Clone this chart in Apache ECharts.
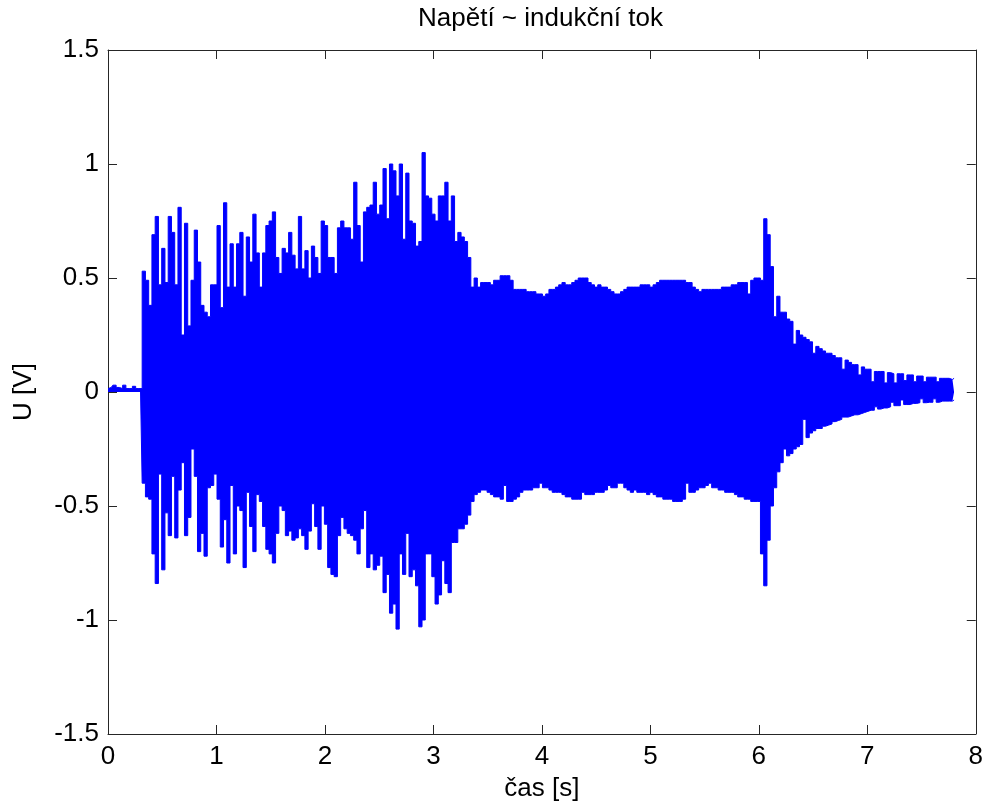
<!DOCTYPE html>
<html>
<head>
<meta charset="utf-8">
<title>Napětí ~ indukční tok</title>
<script src="https://cdn.jsdelivr.net/npm/echarts@6/dist/echarts.min.js"></script>
<style>
  html, body { margin: 0; padding: 0; background: #ffffff; }
  #chart { width: 986px; height: 807px; }
</style>
</head>
<body>
<div id="chart"></div>
<script>
// Sampling grid of the recorded voltage envelope (seconds)
const T_START = 0;
const T_STEP = 0.03;

// Positive peaks of U [V] per time step (t = 0 … 7.80 s)
const upperPeaks = [
  // 0.00 – 0.30 s, before the excitation starts
  0.015, 0.02, 0.03, 0.02, 0.015, 0.03, 0.015, 0.015, 0.025, 0.015, 0.015,
  // 0.33 – 2.49 s
  0.53, 0.49, 0.38, 0.69, 0.77, 0.47, 0.63, 0.48, 0.77, 0.70,
  0.47, 0.81, 0.25, 0.74, 0.29, 0.49, 0.71, 0.57, 0.38, 0.35,
  0.33, 0.47, 0.47, 0.73, 0.37, 0.83, 0.46, 0.65, 0.46, 0.65,
  0.70, 0.42, 0.68, 0.57, 0.78, 0.61, 0.46, 0.61, 0.73, 0.75,
  0.79, 0.59, 0.52, 0.63, 0.61, 0.70, 0.60, 0.54, 0.77, 0.54,
  0.62, 0.50, 0.64, 0.59, 0.52, 0.75, 0.73, 0.59, 0.59, 0.52,
  0.72, 0.75, 0.72, 0.72, 0.67, 0.92, 0.73, 0.57, 0.79, 0.81,
  0.82, 0.92, 0.78,
  // 2.52 – 4.98 s
  0.82, 0.98, 0.76, 1.00, 0.97, 0.86, 1.00, 0.67, 0.96, 0.75,
  0.74, 0.64, 0.66, 1.05, 0.86, 0.85, 0.78, 0.75, 0.86, 0.86,
  0.92, 0.75, 0.86, 0.66, 0.70, 0.68, 0.66, 0.59, 0.46, 0.50,
  0.46, 0.48, 0.48, 0.48, 0.47, 0.49, 0.49, 0.51, 0.51, 0.51,
  0.49, 0.45, 0.45, 0.45, 0.45, 0.44, 0.44, 0.44, 0.43, 0.43,
  0.42, 0.43, 0.45, 0.45, 0.46, 0.47, 0.48, 0.47, 0.47, 0.48,
  0.49, 0.50, 0.50, 0.50, 0.48, 0.47, 0.46, 0.47, 0.46, 0.46,
  0.45, 0.44, 0.43, 0.43, 0.44, 0.45, 0.46, 0.46, 0.46, 0.46,
  0.47, 0.47, 0.47,
  // 5.01 – 7.80 s
  0.46, 0.47, 0.48, 0.49, 0.49, 0.49, 0.49, 0.49, 0.49, 0.49,
  0.49, 0.48, 0.48, 0.46, 0.45, 0.44, 0.45, 0.45, 0.45, 0.45,
  0.45, 0.45, 0.46, 0.46, 0.46, 0.47, 0.47, 0.48, 0.48, 0.48,
  0.43, 0.49, 0.50, 0.50, 0.49, 0.76, 0.69, 0.55, 0.33, 0.42,
  0.35, 0.35, 0.32, 0.31, 0.21, 0.27, 0.25, 0.24, 0.23, 0.22,
  0.17, 0.20, 0.19, 0.18, 0.17, 0.17, 0.16, 0.15, 0.15, 0.10,
  0.14, 0.13, 0.12, 0.12, 0.075, 0.11, 0.10, 0.10, 0.045, 0.09,
  0.09, 0.09, 0.04, 0.085, 0.08, 0.04, 0.08, 0.08, 0.05, 0.075,
  0.075, 0.045, 0.07, 0.07, 0.045, 0.065, 0.065, 0.065, 0.045, 0.06,
  0.06, 0.06, 0.055, 0.06
];

// Negative peaks of U [V] per time step (t = 0 … 7.80 s)
const lowerPeaks = [
  // 0.00 – 0.30 s
  0.005, 0.005, 0.01, 0.005, 0.005, 0.01, 0.005, 0.005, 0.005, 0.005, 0.005,
  // 0.33 – 2.49 s
  -0.40, -0.46, -0.47, -0.71, -0.84, -0.36, -0.78, -0.53, -0.63, -0.37,
  -0.64, -0.43, -0.31, -0.63, -0.55, -0.25, -0.37, -0.70, -0.62, -0.72,
  -0.42, -0.41, -0.36, -0.47, -0.68, -0.56, -0.75, -0.41, -0.71, -0.50,
  -0.52, -0.77, -0.44, -0.59, -0.70, -0.45, -0.48, -0.59, -0.69, -0.71,
  -0.75, -0.62, -0.50, -0.52, -0.63, -0.61, -0.65, -0.64, -0.60, -0.63,
  -0.69, -0.61, -0.49, -0.59, -0.69, -0.50, -0.58, -0.77, -0.80, -0.81,
  -0.63, -0.55, -0.60, -0.62, -0.63, -0.65, -0.71, -0.60, -0.52, -0.77,
  -0.71, -0.78, -0.76,
  // 2.52 – 4.98 s
  -0.72, -0.88, -0.80, -0.97, -0.93, -1.04, -0.71, -0.80, -0.62, -0.81,
  -0.78, -0.85, -1.03, -1.00, -0.71, -0.71, -0.81, -0.93, -0.89, -0.74,
  -0.84, -0.88, -0.66, -0.66, -0.60, -0.60, -0.58, -0.54, -0.48, -0.45,
  -0.44, -0.43, -0.43, -0.44, -0.45, -0.46, -0.46, -0.47, -0.41, -0.48,
  -0.48, -0.47, -0.46, -0.44, -0.43, -0.43, -0.43, -0.42, -0.42, -0.40,
  -0.42, -0.42, -0.43, -0.44, -0.44, -0.44, -0.45, -0.46, -0.46, -0.47,
  -0.47, -0.47, -0.44, -0.45, -0.45, -0.45, -0.44, -0.44, -0.44, -0.43,
  -0.41, -0.42, -0.42, -0.40, -0.40, -0.42, -0.43, -0.44, -0.43, -0.44,
  -0.44, -0.44, -0.45,
  // 5.01 – 7.80 s
  -0.44, -0.45, -0.46, -0.46, -0.47, -0.47, -0.47, -0.48, -0.48, -0.48,
  -0.47, -0.40, -0.44, -0.44, -0.43, -0.42, -0.42, -0.41, -0.40, -0.42,
  -0.42, -0.43, -0.43, -0.44, -0.44, -0.44, -0.45, -0.46, -0.46, -0.47,
  -0.47, -0.48, -0.48, -0.48, -0.71, -0.85, -0.65, -0.50, -0.42, -0.35,
  -0.31, -0.25, -0.28, -0.27, -0.25, -0.24, -0.23, -0.12, -0.20, -0.18,
  -0.17, -0.16, -0.16, -0.15, -0.145, -0.14, -0.13, -0.125, -0.12, -0.11,
  -0.11, -0.105, -0.10, -0.10, -0.095, -0.09, -0.085, -0.08, -0.08, -0.065,
  -0.075, -0.07, -0.07, -0.065, -0.045, -0.06, -0.06, -0.035, -0.055, -0.055,
  -0.05, -0.05, -0.047, -0.03, -0.047, -0.045, -0.045, -0.03, -0.045, -0.04,
  -0.04, -0.04, -0.04, -0.035
];

// Axis ranges and tick spacing
const X_RANGE = [0, 8];
const X_INTERVAL = 1;
const Y_RANGE = [-1.5, 1.5];
const Y_INTERVAL = 0.5;

const TITLE = 'Napětí ~ indukční tok';
const X_NAME = 'čas [s]';
const Y_NAME = 'U [V]';

const FONT = "'Liberation Sans', Arial, Helvetica, sans-serif";
const FONT_SIZE = 26;
const SIGNAL = '#0000ff';
const FRAME = '#262626';

function pairWithTime(values) {
  return values.map((v, i) => [+(T_START + i * T_STEP).toFixed(2), v]);
}

const chart = echarts.init(document.getElementById('chart'), null, { renderer: 'canvas' });

const frameAxis = {
  axisLine: { show: true, onZero: false, lineStyle: { color: FRAME, width: 1 } },
  axisTick: { show: true, inside: true, length: 9, lineStyle: { color: FRAME, width: 1 } },
  splitLine: { show: false }
};

const envelopeSeries = (name, values) => ({
  name: name,
  type: 'line',
  xAxisIndex: 0,
  yAxisIndex: 0,
  data: pairWithTime(values),
  step: 'middle',
  showSymbol: false,
  symbol: 'none',
  clip: true,
  lineStyle: { color: SIGNAL, width: 1 },
  areaStyle: { color: SIGNAL, opacity: 1 },
  emphasis: { disabled: true },
  animation: false
});

chart.setOption({
  backgroundColor: '#ffffff',
  animation: false,
  title: {
    text: TITLE,
    left: 418,
    top: 6,
    padding: 0,
    textStyle: { fontFamily: FONT, fontSize: FONT_SIZE, fontWeight: 'normal', color: '#000' }
  },
  grid: { left: 108, top: 50, right: 9, bottom: 73, containLabel: false },
  xAxis: [
    Object.assign({
      type: 'value', position: 'bottom',
      min: X_RANGE[0], max: X_RANGE[1], interval: X_INTERVAL,
      name: X_NAME, nameLocation: 'middle', nameGap: 42,
      nameTextStyle: { fontFamily: FONT, fontSize: FONT_SIZE, color: '#000' },
      axisLabel: { margin: 10, fontFamily: FONT, fontSize: FONT_SIZE, color: '#000' }
    }, frameAxis),
    Object.assign({
      type: 'value', position: 'top',
      min: X_RANGE[0], max: X_RANGE[1], interval: X_INTERVAL,
      axisLabel: { show: false }
    }, frameAxis)
  ],
  yAxis: [
    Object.assign({
      type: 'value', position: 'left',
      min: Y_RANGE[0], max: Y_RANGE[1], interval: Y_INTERVAL,
      name: Y_NAME, nameLocation: 'middle', nameGap: 71,
      nameTextStyle: { fontFamily: FONT, fontSize: FONT_SIZE, color: '#000' },
      axisLabel: { margin: 9, fontFamily: FONT, fontSize: FONT_SIZE, color: '#000' }
    }, frameAxis),
    Object.assign({
      type: 'value', position: 'right',
      min: Y_RANGE[0], max: Y_RANGE[1], interval: Y_INTERVAL,
      axisLabel: { show: false }
    }, frameAxis)
  ],
  series: [
    envelopeSeries('U+', upperPeaks),
    envelopeSeries('U-', lowerPeaks)
  ]
});
</script>
</body>
</html>
